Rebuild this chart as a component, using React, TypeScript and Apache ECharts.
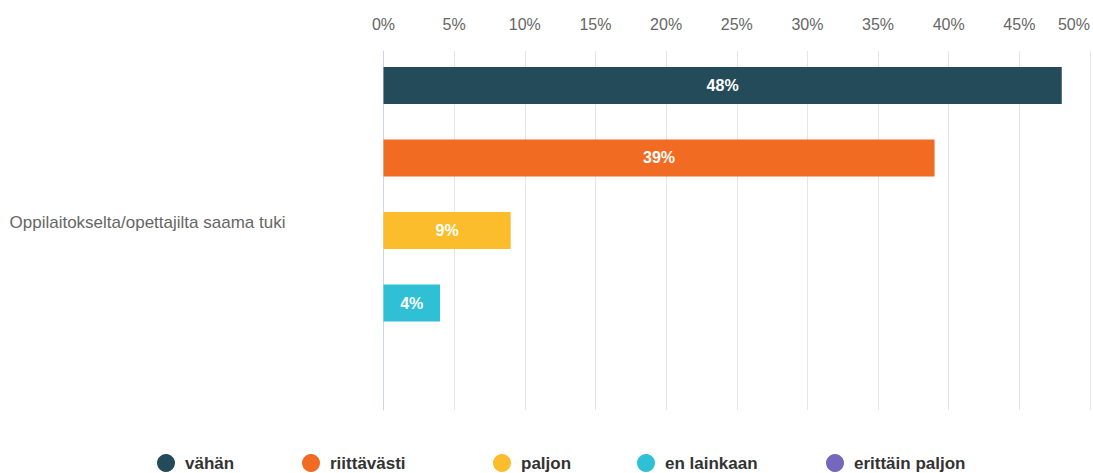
import React, { useEffect, useRef } from "react";
import * as echarts from "echarts";

const categories = ["Oppilaitokselta/opettajilta saama tuki"];
const seriesNames = ["vähän", "riittävästi", "paljon", "en lainkaan", "erittäin paljon"];
const seriesValues = [[48], [39], [9], [4], [0]];
const seriesColors = ["#234b59", "#f26b22", "#fcbd2c", "#30c0d6", "#7566be"];
const legendLefts = [157, 302, 493, 637, 826];

const FONT = "'Liberation Sans', Arial, Helvetica, sans-serif";

export default function App() {
  const ref = useRef<HTMLDivElement>(null);
  useEffect(() => {
    if (!ref.current) return;
    const chart = echarts.init(ref.current, undefined, { renderer: "svg" });
    chart.setOption({
      animation: false,
      textStyle: { fontFamily: FONT },
      grid: { left: 383.5, top: 51, width: 711, height: 359, containLabel: false },
      xAxis: {
        type: "value",
        position: "top",
        min: 0,
        max: 50,
        interval: 5,
        axisLine: { show: false },
        axisTick: { show: false },
        axisLabel: {
          formatter: "{value}%",
          color: "#666",
          fontSize: 16,
          margin: 19,
          fontFamily: FONT,
          alignMaxLabel: "right",
        },
        splitLine: { lineStyle: { color: "#e6e6e6", width: 1 } },
      },
      yAxis: {
        type: "category",
        data: categories,
        axisLine: { show: true, lineStyle: { color: "#ccd6eb", width: 1 } },
        axisTick: { show: false },
        axisLabel: {
          align: "left",
          verticalAlign: "bottom",
          margin: 374,
          color: "#666",
          fontSize: 17,
          fontFamily: FONT,
        },
      },
      legend: seriesNames.map((n, i) => ({
        data: [n],
        left: legendLefts[i],
        top: 454,
        icon: "circle",
        itemWidth: 18,
        itemHeight: 18,
        padding: 0,
        textStyle: {
          color: "#333",
          fontSize: 17,
          fontWeight: "bold",
          fontFamily: FONT,
          padding: [0, 0, 0, 5],
        },
      })),
      series: seriesNames.map((n, i) => ({
        name: n,
        type: "bar",
        data: seriesValues[i],
        barWidth: 37,
        barGap: "96%",
        itemStyle: { color: seriesColors[i] },
        label: {
          show: true,
          position: "inside",
          color: "#fff",
          fontSize: 16,
          fontWeight: "bold",
          fontFamily: FONT,
          formatter: (p: any) => (p.value > 0 ? p.value + "%" : ""),
        },
      })),
    });
    return () => chart.dispose();
  }, []);
  return (
    <div
      ref={ref}
      style={{ position: "absolute", left: 0, top: 0, width: 1093, height: 473, background: "#fff" }}
    />
  );
}
